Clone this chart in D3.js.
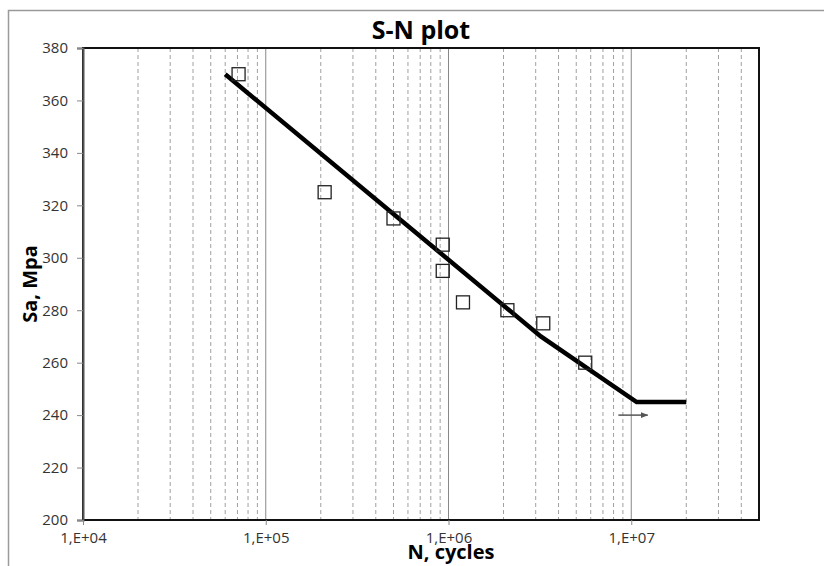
<!DOCTYPE html>
<html lang="en">
<head>
    <meta charset="UTF-8">
    <title>S-N plot</title>
    <script src="https://d3js.org/d3.v7.min.js"></script>
    <style>
        body { margin: 0; background: white; }
        svg { display: block; }
        text { font-family: "Open Sans", Arial, sans-serif; }
        .tick text { font-size: 15px; fill: #333; }
        .title { font-size: 25px; font-weight: bold; text-anchor: middle; }
        .axis-label { font-size: 20px; font-weight: bold; text-anchor: middle; }
    </style>
</head>
<body>
    <svg width="824" height="566"></svg>

    <script>
        // test points (N, Sa)
        const testN  = [7.1e4, 2.1e5, 5e5, 9.3e5, 9.3e5, 1.2e6, 2.1e6, 3.3e6, 5.6e6];
        const testSa = [370, 325, 315, 305, 295, 283, 280, 275, 260];

        // fitted S-N curve
        const curveN  = [6e4, 3.2e6, 1.07e7, 2e7];
        const curveSa = [370, 270, 245, 245];

        // run-out arrow
        const runoutN  = [8.5e6, 1.23e7];
        const runoutSa = [240, 240];

        const yTicks = [200, 220, 240, 260, 280, 300, 320, 340, 360, 380];
        const xTicks = [1e4, 1e5, 1e6, 1e7];
        const xTickLabels = ["1,E+04", "1,E+05", "1,E+06", "1,E+07"];

        const svg = d3.select("svg");
        const plotL = 83, plotR = 759, plotT = 48, plotB = 520;

        const x = d3.scaleLog().domain([1e4, 5e7]).range([plotL, plotR]);
        const y = d3.scaleLinear().domain([200, 380]).range([plotB, plotT]);

        // outer chart frame
        svg.append("rect").attr("x", 8.5).attr("y", 10.5)
            .attr("width", 900).attr("height", 700)
            .attr("fill", "white").attr("stroke", "#9a9a9a").attr("stroke-width", 1.5);

        // minor gridlines
        const minor = [];
        [1e4, 1e5, 1e6, 1e7].forEach(d => {
            for (let k = 2; k <= 9; k++) if (d * k <= 5e7) minor.push(d * k);
        });
        svg.selectAll(".minor").data(minor).enter().append("line")
            .attr("x1", d => x(d)).attr("x2", d => x(d))
            .attr("y1", plotT).attr("y2", plotB)
            .attr("stroke", "#a0a0a0").attr("stroke-width", 1)
            .attr("stroke-dasharray", "4,3");

        // major gridlines
        svg.selectAll(".major").data([1e5, 1e6, 1e7]).enter().append("line")
            .attr("x1", d => x(d)).attr("x2", d => x(d))
            .attr("y1", plotT).attr("y2", plotB)
            .attr("stroke", "#888").attr("stroke-width", 1);

        // plot frame
        svg.append("rect").attr("x", plotL).attr("y", plotT)
            .attr("width", plotR - plotL).attr("height", plotB - plotT)
            .attr("fill", "none").attr("stroke", "#111").attr("stroke-width", 2);

        // axes
        const yAxis = svg.append("g").attr("transform", `translate(${plotL},0)`)
            .call(d3.axisLeft(y).tickValues(yTicks).tickSize(6).tickPadding(9));
        yAxis.select(".domain").attr("stroke", "#555").attr("stroke-width", 2);
        yAxis.selectAll(".tick line").attr("stroke", "#888");

        const xAxis = svg.append("g").attr("transform", `translate(0,${plotB})`)
            .call(d3.axisBottom(x).tickValues(xTicks).tickSize(5).tickPadding(7)
                .tickFormat((d, i) => xTickLabels[i]));
        xAxis.select(".domain").remove();
        xAxis.selectAll(".tick line").attr("stroke", "#888");

        // curve
        const curve = curveN.map((n, i) => [n, curveSa[i]]);
        svg.append("path").datum(curve)
            .attr("fill", "none").attr("stroke", "#000").attr("stroke-width", 4.5)
            .attr("d", d3.line().x(d => x(d[0])).y(d => y(d[1])));

        // test points
        const pts = testN.map((n, i) => [n, testSa[i]]);
        svg.selectAll(".pt").data(pts).enter().append("rect")
            .attr("x", d => x(d[0]) - 6.5).attr("y", d => y(d[1]) - 6.5)
            .attr("width", 13).attr("height", 13)
            .attr("fill", "none").attr("stroke", "#222").attr("stroke-width", 1.3);

        // run-out arrow
        svg.append("defs").append("marker").attr("id", "arrow")
            .attr("viewBox", "0 0 10 10").attr("refX", 9).attr("refY", 5)
            .attr("markerWidth", 5).attr("markerHeight", 5).attr("orient", "auto")
            .append("path").attr("d", "M0,1 L10,5 L0,9 Z").attr("fill", "#555");
        svg.append("line")
            .attr("x1", x(runoutN[0])).attr("x2", x(runoutN[1]))
            .attr("y1", y(runoutSa[0])).attr("y2", y(runoutSa[1]))
            .attr("stroke", "#555").attr("stroke-width", 1.5)
            .attr("marker-end", "url(#arrow)");

        // titles
        svg.append("text").attr("class", "title")
            .attr("x", (plotL + plotR) / 2).attr("y", 39).text("S-N plot");
        svg.append("text").attr("class", "axis-label")
            .attr("x", 451).attr("y", 559).text("N, cycles");
        svg.append("text").attr("class", "axis-label")
            .attr("transform", "translate(37,284) rotate(-90)").text("Sa, Mpa");
    </script>
</body>
</html>
